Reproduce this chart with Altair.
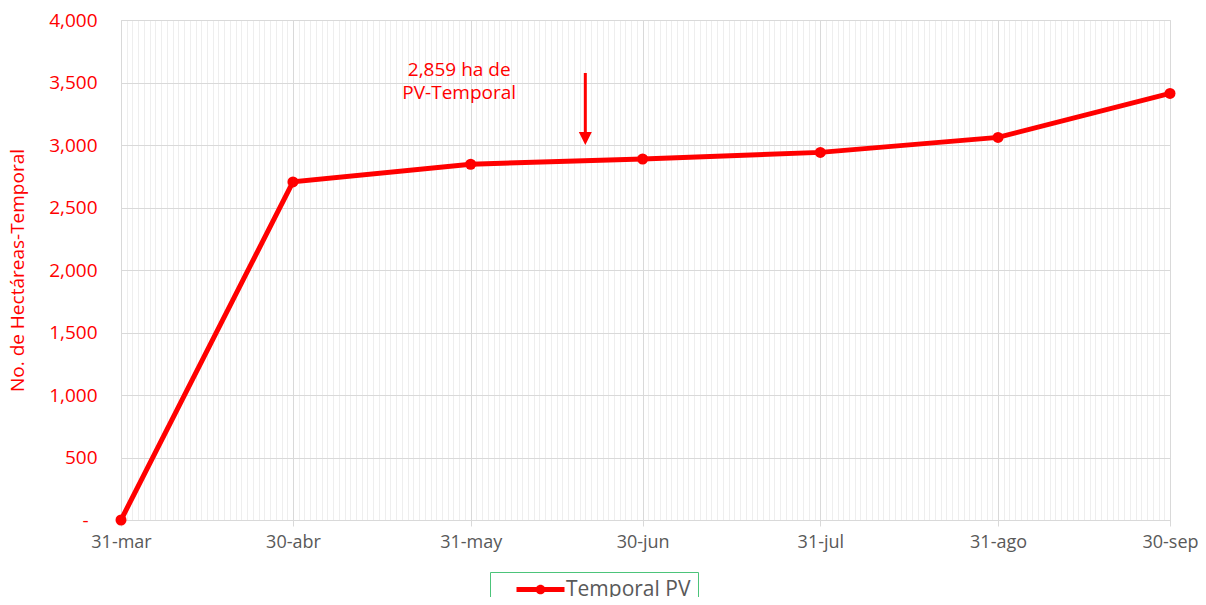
import altair as alt
import pandas as pd

# ---- data ----
fechas = ["2023-03-31", "2023-04-30", "2023-05-31", "2023-06-30",
          "2023-07-31", "2023-08-31", "2023-09-30"]
hectareas = [0, 2705, 2846, 2888, 2941, 3061, 3413]
serie = "Temporal PV"

# annotation
nota_fecha = ["2023-05-29"]
nota_y = [3600]
nota_texto = ["2,859 ha de\nPV-Temporal"]
flecha_fecha = ["2023-06-20"]
flecha_y_ini = [3576]
flecha_y_fin = [3100]
flecha_punta = [3000]

# ticks
y_ticks = [0, 500, 1000, 1500, 2000, 2500, 3000, 3500, 4000]
dias = pd.date_range("2023-03-31", "2023-09-30", freq="D")
x_ticks = [int(d.value // 10**6) for d in dias]

RED = "#ff0000"
GRAY = "#595959"
FONT = "Open Sans"

df = pd.DataFrame({"fecha": fechas, "ha": hectareas, "serie": [serie] * len(fechas)})
df_nota = pd.DataFrame({"fecha": nota_fecha, "ha": nota_y, "t": nota_texto})
df_flecha = pd.DataFrame({"fecha": flecha_fecha, "ha": flecha_y_ini, "y2": flecha_y_fin,
                          "yp": flecha_punta})

xscale = alt.Scale(type="utc", domain=[x_ticks[0], x_ticks[-1]], nice=False)
yscale = alt.Scale(domain=[0, 4000], nice=False)

major = "utcdate(time(datum.value) + 86400000) == 1"
meses = "['ene','feb','mar','abr','may','jun','jul','ago','sep','oct','nov','dic']"

x_axis = alt.Axis(
    values=x_ticks,
    labelExpr=(f"{major} ? (utcdate(time(datum.value)) + '-' + "
               f"{meses}[utcmonth(time(datum.value))]) : ''"),
    labelOverlap=False, labelFlush=False,
    labelFont=FONT, labelFontSize=18, labelColor=GRAY, labelPadding=7,
    tickSize=6,
    tickColor={"condition": {"test": major, "value": "#d9d9d9"}, "value": "transparent"},
    grid=True,
    gridColor={"condition": {"test": major, "value": "#d9d9d9"}, "value": "#eeeeee"},
    gridWidth=1,
    domainColor="#d9d9d9",
    title=None,
)

y_axis = alt.Axis(
    values=y_ticks,
    labelExpr="datum.value == 0 ? '-' : format(datum.value, ',')",
    labelFont=FONT, labelFontSize=19, labelColor=RED,
    labelPadding={"condition": {"test": "datum.value == 0", "value": 33}, "value": 24},
    ticks=False, tickSize=0, domain=False,
    grid=True, gridColor="#d9d9d9",
    title="No. de Hectáreas-Temporal",
    titleFont=FONT, titleFontSize=19, titleFontWeight="normal", titleColor=RED,
    titleX=-94, titleY=250,
)

X = alt.X("fecha:T", scale=xscale, axis=x_axis)
Y = alt.Y("ha:Q", scale=yscale, axis=y_axis)

linea = alt.Chart(df).mark_line(color=RED, strokeWidth=5).encode(x=X, y=Y)

leyenda_path = ("M -3 -0.3 L 3 -0.3 L 3 0.3 L -3 0.3 Z "
                "M -0.6 0 A 0.6 0.6 0 1 1 0.6 0 A 0.6 0.6 0 1 1 -0.6 0 Z")

puntos = alt.Chart(df).mark_point(filled=True, size=121, opacity=1).encode(
    x=X, y=Y,
    color=alt.Color("serie:N", scale=alt.Scale(range=[RED]),
                    legend=alt.Legend(
                        title=None, orient="none", legendX=369, legendY=552,
                        strokeColor="#4cc47a", padding=7,
                        symbolType=leyenda_path, symbolSize=256,
                        symbolOffset=33, labelOffset=15,
                        symbolStrokeWidth=0,
                        labelFont=FONT, labelFontSize=21, labelColor=GRAY,
                    )),
)

flecha = alt.Chart(df_flecha).mark_rule(color=RED, strokeWidth=3).encode(
    x=X, y=Y, y2="y2:Q",
)

punta = alt.Chart(df_flecha).mark_point(
    filled=True, color=RED, opacity=1, size=169, shape="M -1 -2 L 1 -2 L 0 0 Z"
).encode(
    x=X, y=alt.Y("yp:Q", scale=yscale, axis=y_axis),
)

nota = alt.Chart(df_nota).mark_text(
    color=RED, font=FONT, fontSize=19, lineBreak="\n", lineHeight=23,
    align="center", baseline="middle",
).encode(x=X, y=Y, text="t:N")

chart = alt.layer(linea, puntos, flecha, punta, nota).properties(
    width=1049, height=500,
    autosize=alt.AutoSizeParams(type="none"),
    padding={"left": 113, "top": 12, "right": 28, "bottom": 77},
).configure_view(stroke=None).configure(background="white")

chart.save("out.html", embed_options={"renderer": "svg", "actions": False})
